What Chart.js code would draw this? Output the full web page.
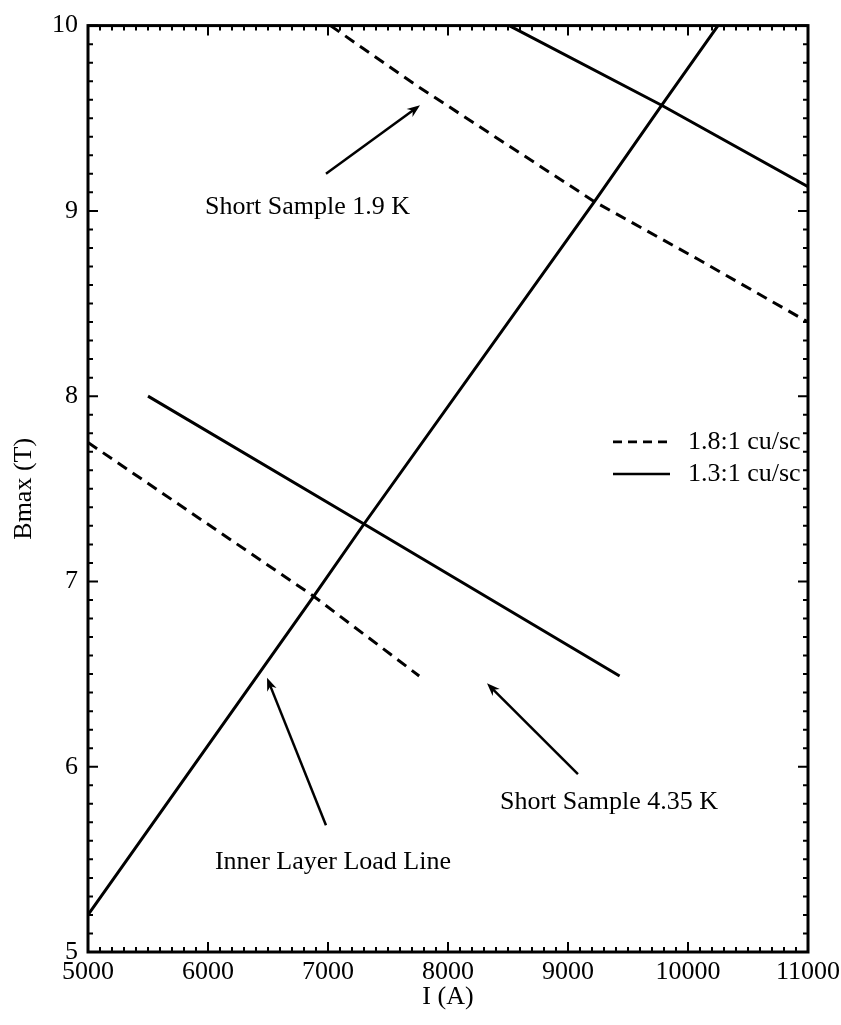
<!DOCTYPE html>
<html>
<head>
<meta charset="utf-8">
<title>Bmax vs I</title>
<script src="https://cdn.jsdelivr.net/npm/chart.js@4.4.1/dist/chart.umd.min.js"></script>
<style>
  html, body { margin: 0; padding: 0; background: #fff; }
  #wrap { width: 841px; height: 1025px; position: relative; }
</style>
</head>
<body>
<div id="wrap"><canvas id="chart"></canvas></div>
<script>
// --- values: current I (A) and peak field Bmax (T) ---
const loadI = [5000, 6880, 7300, 9220, 9780, 10250];
const loadB = [5.2, 6.92, 7.31, 9.05, 9.57, 10.0];

const ss19DashI = [7020, 7730, 9220, 10080, 11000];   // 1.8:1 cu/sc, 1.9 K
const ss19DashB = [10.0, 9.68, 9.05, 8.74, 8.40];
const ss19SolidI = [8510, 9780, 11000];               // 1.3:1 cu/sc, 1.9 K
const ss19SolidB = [10.0, 9.57, 9.13];

const ss435DashI = [5000, 6880, 7760];                // 1.8:1 cu/sc, 4.35 K
const ss435DashB = [7.75, 6.92, 6.49];
const ss435SolidI = [5500, 7300, 9430];               // 1.3:1 cu/sc, 4.35 K
const ss435SolidB = [8.0, 7.31, 6.49];

const xTicks = [5000, 6000, 7000, 8000, 9000, 10000, 11000];
const yTicks = [5, 6, 7, 8, 9, 10];
const legendLabels = ['1.8:1 cu/sc', '1.3:1 cu/sc'];
const noteLabels = ['Short Sample 1.9 K', 'Short Sample 4.35 K', 'Inner Layer Load Line'];

// --- placement of notes (data coordinates) ---
const notePlace = [
  { at: [5975, 9.02], tail: [6983, 9.20], head: [7767, 9.57] },
  { at: [8433, 5.81], tail: [9083, 5.96], head: [8325, 6.45] },
  { at: [6058, 5.485], tail: [6983, 5.684], head: [6492, 6.48] }
];
const legendPlace = { x0: 9375, x1: 9850, tx: 10000, y: [7.753, 7.58] };

const FONT = "'Liberation Serif', 'Times New Roman', serif";
const DASH = [11, 7];
Chart.defaults.font.family = FONT;
Chart.defaults.color = '#000';

const pts = (xs, ys) => xs.map((x, i) => ({ x, y: ys[i] }));
const line = (xs, ys, dashed) => ({
  data: pts(xs, ys),
  showLine: true,
  borderColor: '#000',
  borderWidth: 3,
  borderDash: dashed ? DASH : [],
  pointRadius: 0,
  fill: false
});

// рамка и внутренние засечки на всех четырёх сторонах
const frameTicks = {
  id: 'frameTicks',
  afterDatasetsDraw(chart) {
    const { ctx, chartArea: a, scales: { x, y } } = chart;
    ctx.save();
    ctx.strokeStyle = '#000';
    ctx.lineWidth = 2;
    ctx.beginPath();
    for (let k = 0; k <= 60; k++) {
      const px = x.getPixelForValue(xTicks[0] + k * 100);
      const len = k % 10 === 0 ? 10 : 5;
      ctx.moveTo(px, a.bottom); ctx.lineTo(px, a.bottom - len);
      ctx.moveTo(px, a.top); ctx.lineTo(px, a.top + len);
    }
    for (let k = 0; k <= 50; k++) {
      const py = y.getPixelForValue(yTicks[0] + k / 10);
      const len = k % 10 === 0 ? 10 : 5;
      ctx.moveTo(a.left, py); ctx.lineTo(a.left + len, py);
      ctx.moveTo(a.right, py); ctx.lineTo(a.right - len, py);
    }
    ctx.stroke();
    ctx.lineWidth = 3;
    ctx.strokeRect(a.left, a.top, a.right - a.left, a.bottom - a.top);
    ctx.restore();
  }
};

function arrow(ctx, x0, y0, x1, y1) {
  const ang = Math.atan2(y1 - y0, x1 - x0);
  const L = 13, W = 5;
  ctx.beginPath();
  ctx.moveTo(x0, y0);
  ctx.lineTo(x1 - Math.cos(ang) * 6, y1 - Math.sin(ang) * 6);
  ctx.stroke();
  ctx.beginPath();
  ctx.moveTo(x1, y1);
  ctx.lineTo(x1 - L * Math.cos(ang) + W * Math.sin(ang), y1 - L * Math.sin(ang) - W * Math.cos(ang));
  ctx.lineTo(x1 - (L - 4) * Math.cos(ang), y1 - (L - 4) * Math.sin(ang));
  ctx.lineTo(x1 - L * Math.cos(ang) - W * Math.sin(ang), y1 - L * Math.sin(ang) + W * Math.cos(ang));
  ctx.closePath();
  ctx.fill();
}

// подписи со стрелками и легенда внутри поля графика
const notes = {
  id: 'notes',
  afterDraw(chart) {
    const { ctx, scales: { x, y } } = chart;
    ctx.save();
    ctx.fillStyle = '#000';
    ctx.strokeStyle = '#000';
    ctx.lineWidth = 2.5;
    ctx.font = '26px ' + FONT;
    ctx.textBaseline = 'middle';
    ctx.textAlign = 'left';
    notePlace.forEach((n, i) => {
      ctx.fillText(noteLabels[i], x.getPixelForValue(n.at[0]), y.getPixelForValue(n.at[1]));
      arrow(ctx, x.getPixelForValue(n.tail[0]), y.getPixelForValue(n.tail[1]),
        x.getPixelForValue(n.head[0]), y.getPixelForValue(n.head[1]));
    });
    legendLabels.forEach((t, i) => {
      const py = y.getPixelForValue(legendPlace.y[i]);
      ctx.lineWidth = 2.6;
      ctx.setLineDash(i === 0 ? [9, 6] : []);
      ctx.beginPath();
      ctx.moveTo(x.getPixelForValue(legendPlace.x0), py);
      ctx.lineTo(x.getPixelForValue(legendPlace.x1), py);
      ctx.stroke();
      ctx.setLineDash([]);
      ctx.fillText(t, x.getPixelForValue(legendPlace.tx), py);
    });
    ctx.restore();
  }
};

new Chart(document.getElementById('chart'), {
  type: 'scatter',
  data: {
    datasets: [
      line(loadI, loadB, false),
      line(ss19DashI, ss19DashB, true),
      line(ss19SolidI, ss19SolidB, false),
      line(ss435DashI, ss435DashB, true),
      line(ss435SolidI, ss435SolidB, false)
    ]
  },
  options: {
    responsive: true,
    maintainAspectRatio: false,
    animation: false,
    events: [],
    layout: { padding: { top: 25, right: 33, left: 0, bottom: 0 } },
    plugins: { legend: { display: false }, tooltip: { enabled: false } },
    scales: {
      x: {
        type: 'linear', min: xTicks[0], max: xTicks[xTicks.length - 1],
        afterFit: (s) => { s.height = 73; s.paddingLeft = 0; s.paddingRight = 0; },
        afterBuildTicks: (s) => { s.ticks = xTicks.map(v => ({ value: v })); },
        grid: { display: false, drawTicks: false },
        border: { display: false },
        ticks: { font: { size: 26 }, padding: 5, maxRotation: 0, autoSkip: false, callback: (v) => String(v) },
        title: { display: true, text: 'I (A)', font: { size: 26 }, padding: { top: 0, bottom: 12 } }
      },
      y: {
        type: 'linear', min: yTicks[0], max: yTicks[yTicks.length - 1],
        afterFit: (s) => { s.width = 88; },
        afterBuildTicks: (s) => { s.ticks = yTicks.map(v => ({ value: v })); },
        grid: { display: false, drawTicks: false },
        border: { display: false },
        ticks: { font: { size: 26 }, padding: 10, autoSkip: false },
        title: { display: true, text: 'Bmax (T)', font: { size: 26 }, padding: { top: 9, bottom: 0 } }
      }
    }
  },
  plugins: [frameTicks, notes]
});
</script>
</body>
</html>
